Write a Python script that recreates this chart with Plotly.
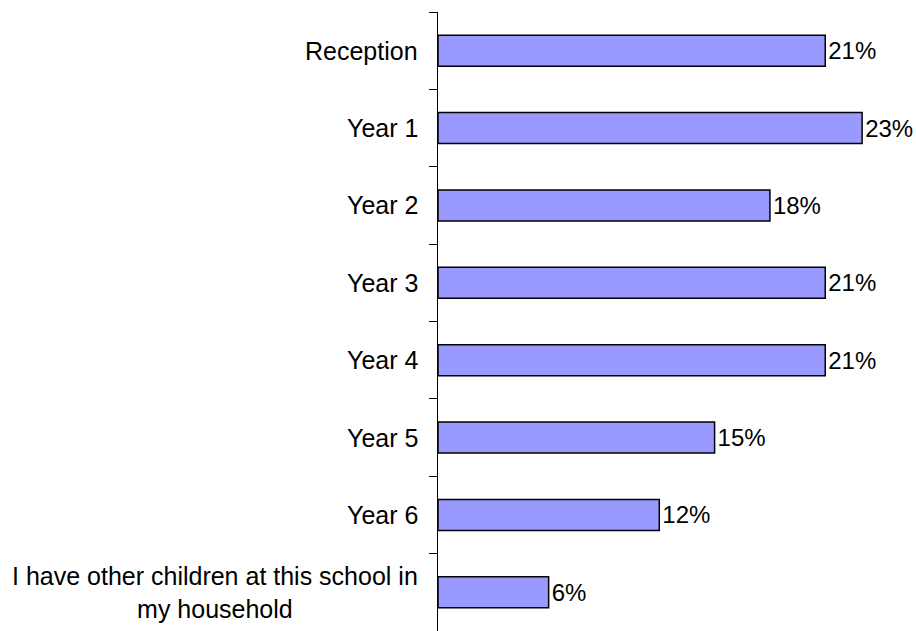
import plotly.graph_objects as go

categories = [
    "Reception",
    "Year 1",
    "Year 2",
    "Year 3",
    "Year 4",
    "Year 5",
    "Year 6",
    "I have other children at this school in<br>my household",
]
values = [21, 23, 18, 21, 21, 15, 12, 6]

FONT = "Liberation Sans, Arial, sans-serif"

fig = go.Figure()
fig.add_trace(go.Bar(
    y=categories,
    x=values,
    orientation="h",
    marker=dict(color="#9999FF", line=dict(color="black", width=1.5)),
    text=[f"{v}%" for v in values],
    textposition="outside",
    constraintext="none",
    textfont=dict(family=FONT, size=24, color="black"),
    cliponaxis=False,
    width=0.4,
))

for c in categories:
    fig.add_annotation(
        x=0, xref="paper", y=c, yref="y",
        text=c, showarrow=False, xanchor="right", yanchor="middle",
        align="center", xshift=-18,
        font=dict(family=FONT, size=25, color="black"),
    )

fig.update_layout(
    width=916, height=631,
    margin=dict(l=438, r=17, t=12, b=0),
    paper_bgcolor="white", plot_bgcolor="white",
    showlegend=False,
    xaxis=dict(range=[0, 25], visible=False, fixedrange=True),
    yaxis=dict(
        autorange="reversed",
        showline=True, linecolor="black", linewidth=1,
        ticks="outside", tickson="boundaries", ticklen=8, tickcolor="black",
        showticklabels=False, showgrid=False, zeroline=False,
    ),
)

fig.write_html("out.html")
